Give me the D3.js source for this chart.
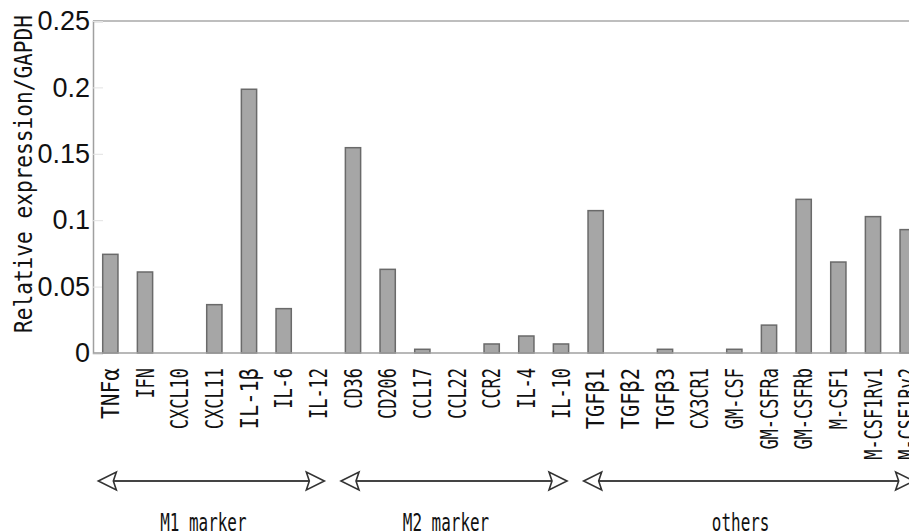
<!DOCTYPE html>
<html>
<head>
<meta charset="utf-8">
<script src="https://cdn.jsdelivr.net/npm/d3@7"></script>
<style>
  body { margin: 0; background: #fff; }
  svg { display: block; }
</style>
</head>
<body>
<div id="chart"></div>
<script>
const genes = ["TNFα", "IFN", "CXCL10", "CXCL11", "IL-1β", "IL-6", "IL-12",
  "CD36", "CD206", "CCL17", "CCL22", "CCR2", "IL-4", "IL-10",
  "TGFβ1", "TGFβ2", "TGFβ3", "CX3CR1", "GM-CSF", "GM-CSFRa", "GM-CSFRb",
  "M-CSF1", "M-CSF1Rv1", "M-CSF1Rv2"];
const expression = [0.0743, 0.061, 0, 0.0364, 0.1986, 0.0334, 0,
  0.1546, 0.063, 0.0028, 0, 0.0068, 0.0128, 0.0068,
  0.1072, 0, 0.0028, 0, 0.0028, 0.021, 0.1157,
  0.0685, 0.1027, 0.0929];
const yTicks = [0, 0.05, 0.1, 0.15, 0.2, 0.25];
const yTickLabels = ["0", "0.05", "0.1", "0.15", "0.2", "0.25"];
const groupNames = ["M1 marker", "M2 marker", "others"];
const groupFirst = ["TNFα", "CD36", "TGFβ1"];
const groupLast = ["IL-12", "IL-10", "M-CSF1Rv2"];

const width = 909, height = 532;
const margin = {top: 21, right: -16, bottom: 179, left: 93};
const mono = "'DejaVu Sans Mono', 'Liberation Mono', monospace";

const data = genes.map((g, i) => ({gene: g, value: expression[i]}));

const x = d3.scaleBand()
  .domain(genes)
  .range([margin.left, width - margin.right])
  .paddingInner(0.56)
  .paddingOuter(0.28);

const y = d3.scaleLinear()
  .domain([0, 0.25])
  .range([height - margin.bottom, margin.top]);

// greek letters are full-width in the original font
const cells = s => s.length + (s.match(/[αβ]/g) || []).length;

const svg = d3.select("#chart").append("svg")
  .attr("width", width).attr("height", height);

// frame top line
svg.append("line")
  .attr("x1", margin.left).attr("x2", width)
  .attr("y1", y(0.25)).attr("y2", y(0.25))
  .attr("stroke", "#a8a8a8").attr("stroke-width", 1.5);

const yAxis = d3.axisLeft(y)
  .tickValues(yTicks)
  .tickFormat((d, i) => yTickLabels[i])
  .tickSize(-10).tickPadding(3);

const ya = svg.append("g")
  .attr("transform", `translate(${margin.left},0)`)
  .call(yAxis);
ya.select(".domain").attr("stroke", "#a0a0a0").attr("stroke-width", 1.5);
ya.selectAll(".tick line").attr("stroke", "#e2e2e2");
ya.selectAll(".tick text")
  .attr("x", -3)
  .attr("font-family", "'Liberation Sans', Arial, sans-serif")
  .attr("font-size", 27).attr("fill", "#111");

// bars
svg.append("g").selectAll("rect")
  .data(data)
  .join("rect")
  .attr("x", d => x(d.gene))
  .attr("width", x.bandwidth())
  .attr("y", d => y(d.value))
  .attr("height", d => y(0) - y(d.value))
  .attr("fill", "#a6a6a6")
  .attr("stroke", "#6a6a6a")
  .attr("stroke-width", d => d.value > 0 ? 1.5 : 0);

// x baseline
svg.append("line")
  .attr("x1", margin.left).attr("x2", width)
  .attr("y1", y(0)).attr("y2", y(0))
  .attr("stroke", "#a0a0a0").attr("stroke-width", 1.5);

// rotated gene labels
svg.append("g").selectAll("text")
  .data(genes)
  .join("text")
  .attr("transform", d => `translate(${x(d) + x.bandwidth() / 2},368) rotate(-90)`)
  .attr("text-anchor", "end")
  .attr("dy", "0.36em")
  .attr("font-family", mono)
  .attr("font-size", 24)
  .attr("textLength", d => cells(d) * 10.2)
  .attr("lengthAdjust", "spacingAndGlyphs")
  .attr("fill", "#111")
  .text(d => d);

// y title
svg.append("text")
  .attr("transform", "translate(23,174) rotate(-90)")
  .attr("text-anchor", "middle")
  .attr("dy", "0.36em")
  .attr("font-family", mono)
  .attr("font-size", 25)
  .attr("textLength", 318)
  .attr("lengthAdjust", "spacingAndGlyphs")
  .attr("fill", "#111")
  .text("Relative expression/GAPDH");

// group arrows
const groups = groupNames.map((n, i) => ({
  name: n,
  x0: x(groupFirst[i]) + x.bandwidth() / 2 - 12,
  x1: x(groupLast[i]) + x.bandwidth() / 2 + 6
}));
const ay = 481;
const head = (tip, dir) =>
  `M${tip},${ay} L${tip + dir * 18},${ay - 9} L${tip + dir * 15},${ay} L${tip + dir * 18},${ay + 9} Z`;

const ag = svg.append("g").selectAll("g")
  .data(groups)
  .join("g");
ag.append("line")
  .attr("x1", d => d.x0 + 15).attr("x2", d => d.x1 - 15)
  .attr("y1", ay).attr("y2", ay)
  .attr("stroke", "#444").attr("stroke-width", 2);
ag.append("path")
  .attr("d", d => head(d.x0, 1) + head(d.x1, -1))
  .attr("fill", "#fff").attr("stroke", "#333").attr("stroke-width", 1.6)
  .attr("stroke-linejoin", "miter");
ag.append("text")
  .attr("x", d => (d.x0 + d.x1) / 2 - 8)
  .attr("y", 531)
  .attr("text-anchor", "middle")
  .attr("font-family", mono)
  .attr("font-size", 24)
  .attr("textLength", d => d.name.length * 9.6)
  .attr("lengthAdjust", "spacingAndGlyphs")
  .attr("fill", "#111")
  .text(d => d.name);
</script>
</body>
</html>
